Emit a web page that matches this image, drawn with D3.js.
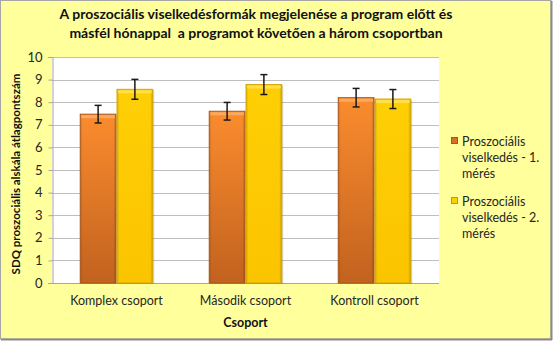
<!DOCTYPE html>
<html>
<head>
<meta charset="utf-8">
<script src="https://cdn.jsdelivr.net/npm/d3@7"></script>
<style>
  html, body { margin: 0; padding: 0; background: #fff; }
  svg { display: block; font-family: Lato, "Open Sans", sans-serif; }
</style>
</head>
<body>
<svg id="chart" width="553" height="341"></svg>
<script>
// Group means and their error margins (SDQ prosocial subscale)
const groups = ["Komplex csoport", "Második csoport", "Kontroll csoport"];
const seriesNames = ["Proszociális viselkedés - 1. mérés", "Proszociális viselkedés - 2. mérés"];
const meres1 = [7.47, 7.6, 8.2];
const meres2 = [8.57, 8.78, 8.14];
const hiba1 = [0.39, 0.39, 0.41];
const hiba2 = [0.44, 0.44, 0.42];
const yTicks = [0, 1, 2, 3, 4, 5, 6, 7, 8, 9, 10];
const titleLines = [
  "A proszociális viselkedésformák megjelenése a program előtt és",
  "másfél hónappal  a programot követően a három csoportban"
];
const legendLines = [
  ["Proszociális", "viselkedés - 1.", "mérés"],
  ["Proszociális", "viselkedés - 2.", "mérés"]
];

const svg = d3.select("#chart");
const W = 553, H = 341;
const plot = { left: 52, right: 439, top: 57, bottom: 283 };

// chart area background and frame
svg.append("rect").attr("x", 0).attr("y", 0).attr("width", W).attr("height", H).attr("fill", "#ffffff");
svg.append("rect").attr("x", 0.5).attr("y", 0.5).attr("width", W - 2.5).attr("height", H - 2.5)
  .attr("fill", "#FFFF9C").attr("stroke", "#A6A6A6").attr("stroke-width", 1);
svg.append("line").attr("x1", W - 1.5).attr("x2", W - 1.5).attr("y1", 1).attr("y2", H - 1)
  .attr("stroke", "#8A8A8A").attr("stroke-width", 2);
svg.append("line").attr("x1", 1).attr("x2", W - 1).attr("y1", H - 1.5).attr("y2", H - 1.5)
  .attr("stroke", "#8A8A8A").attr("stroke-width", 2);

const defs = svg.append("defs");
const g1 = defs.append("linearGradient").attr("id", "gradOrange").attr("x1", 0).attr("y1", 0).attr("x2", 0).attr("y2", 1);
g1.append("stop").attr("offset", "0%").attr("stop-color", "#FB8C2E");
g1.append("stop").attr("offset", "100%").attr("stop-color", "#C2621F");
const g2 = defs.append("linearGradient").attr("id", "gradYellow").attr("x1", 0).attr("y1", 0).attr("x2", 0).attr("y2", 1);
g2.append("stop").attr("offset", "0%").attr("stop-color", "#FFCF05");
g2.append("stop").attr("offset", "100%").attr("stop-color", "#FBC400");
const gs = defs.append("linearGradient").attr("id", "gradSide").attr("x1", 0).attr("y1", 0).attr("x2", 1).attr("y2", 0);
gs.append("stop").attr("offset", "0%").attr("stop-color", "#000").attr("stop-opacity", 0.12);
gs.append("stop").attr("offset", "6%").attr("stop-color", "#000").attr("stop-opacity", 0);
gs.append("stop").attr("offset", "94%").attr("stop-color", "#000").attr("stop-opacity", 0);
gs.append("stop").attr("offset", "100%").attr("stop-color", "#000").attr("stop-opacity", 0.18);

// plot area
svg.append("rect").attr("x", plot.left).attr("y", plot.top)
  .attr("width", plot.right - plot.left).attr("height", plot.bottom - plot.top).attr("fill", "#ffffff");

const y = d3.scaleLinear().domain([0, 10]).range([plot.bottom, plot.top]);
const x0 = d3.scaleBand().domain(groups).range([plot.left, plot.right]).paddingInner(0.43).paddingOuter(0.215);
const x1 = d3.scaleBand().domain([0, 1]).range([0, x0.bandwidth()]);

// gridlines
svg.append("g").selectAll("line").data(yTicks.slice(1)).join("line")
  .attr("x1", plot.left).attr("x2", plot.right)
  .attr("y1", d => Math.round(y(d)) + 0.5).attr("y2", d => Math.round(y(d)) + 0.5)
  .attr("stroke", "#BEBEBE").attr("stroke-width", 1);

// y axis
const yAxis = svg.append("g").attr("transform", `translate(${plot.left + 0.5},0)`)
  .call(d3.axisLeft(y).tickValues(yTicks).tickSize(4).tickPadding(6));
yAxis.select(".domain").attr("stroke", "#A6A6A6");
yAxis.selectAll(".tick line").attr("stroke", "#A6A6A6");
yAxis.selectAll(".tick text").attr("font-size", 13).attr("fill", "#262626")
  .attr("font-family", "Lato, sans-serif");

// x axis
const xAxis = svg.append("g").attr("transform", `translate(0,${plot.bottom + 0.5})`)
  .call(d3.axisBottom(x0).tickSize(0).tickPadding(13));
xAxis.select(".domain").attr("stroke", "#A6A6A6").attr("d", `M${plot.left - 4},0H${plot.right}`);
xAxis.selectAll(".tick text").attr("font-size", 12.5).attr("fill", "#262626")
  .attr("font-family", "Lato, sans-serif");

// bars
const rows = groups.map((g, i) => [
  { g, s: 0, v: meres1[i], e: hiba1[i] },
  { g, s: 1, v: meres2[i], e: hiba2[i] }
]).flat();

const bars = svg.append("g").selectAll("g").data(rows).join("g")
  .attr("transform", d => `translate(${x0(d.g) + x1(d.s)},0)`);

bars.append("rect")
  .attr("x", 1).attr("y", d => y(d.v) + 1)
  .attr("width", x1.bandwidth()).attr("height", d => y(0) - y(d.v))
  .attr("fill", "#000").attr("opacity", 0.15);
bars.append("rect")
  .attr("x", 0.5).attr("y", d => y(d.v))
  .attr("width", x1.bandwidth() - 1).attr("height", d => y(0) - y(d.v))
  .attr("fill", d => d.s === 0 ? "url(#gradOrange)" : "url(#gradYellow)")
  .attr("stroke", d => d.s === 0 ? "#A9561B" : "#D9A600").attr("stroke-width", 1);
bars.append("rect")
  .attr("x", 1).attr("y", d => y(d.v) + 0.5)
  .attr("width", x1.bandwidth() - 2).attr("height", d => y(0) - y(d.v) - 1)
  .attr("fill", "url(#gradSide)");
bars.append("rect")
  .attr("x", 1.5).attr("y", d => y(d.v) + 1)
  .attr("width", x1.bandwidth() - 3).attr("height", 3)
  .attr("fill", d => d.s === 0 ? "#FDB06A" : "#FFE45A").attr("opacity", 0.8);

// error bars
const cx = x1.bandwidth() / 2;
const eb = bars.append("g").attr("stroke", "#1a1a1a").attr("stroke-width", 1.5);
eb.append("line").attr("x1", cx).attr("x2", cx)
  .attr("y1", d => y(d.v + d.e)).attr("y2", d => y(d.v - d.e));
eb.append("line").attr("x1", cx - 3.5).attr("x2", cx + 3.5)
  .attr("y1", d => y(d.v + d.e)).attr("y2", d => y(d.v + d.e));
eb.append("line").attr("x1", cx - 3.5).attr("x2", cx + 3.5)
  .attr("y1", d => y(d.v - d.e)).attr("y2", d => y(d.v - d.e));

// title
svg.append("g").selectAll("text").data(titleLines).join("text")
  .attr("x", 256).attr("y", (d, i) => 19 + i * 19)
  .attr("text-anchor", "middle").attr("font-size", 14).attr("font-weight", "bold")
  .style("white-space", "pre")
  .attr("fill", "#111").text(d => d);

// axis titles
svg.append("text").attr("x", plot.left + (plot.right - plot.left) / 2).attr("y", 327)
  .attr("text-anchor", "middle").attr("font-size", 12.5).attr("font-weight", "bold")
  .attr("fill", "#111").text("Csoport");
svg.append("text").attr("transform", "translate(20,174) rotate(-90)")
  .attr("text-anchor", "middle").attr("font-size", 11.5).attr("font-weight", "bold")
  .attr("fill", "#111").text("SDQ proszociális alskála átlagpontszám");

// legend
const legend = svg.append("g").selectAll("g").data(seriesNames).join("g")
  .attr("transform", (d, i) => `translate(451,${141 + i * 60})`);
legend.append("rect").attr("x", 0.5).attr("y", -3.5).attr("width", 6).attr("height", 6)
  .attr("fill", (d, i) => i === 0 ? "#D86F25" : "#FFCC00")
  .attr("stroke", (d, i) => i === 0 ? "#A9561B" : "#C99A00");
legend.each(function(d, i) {
  d3.select(this).selectAll("text").data(legendLines[i]).join("text")
    .attr("x", 11).attr("y", (t, j) => 4.5 + j * 16.3)
    .attr("font-size", 12.5).attr("fill", "#262626").text(t => t);
});
</script>
</body>
</html>
